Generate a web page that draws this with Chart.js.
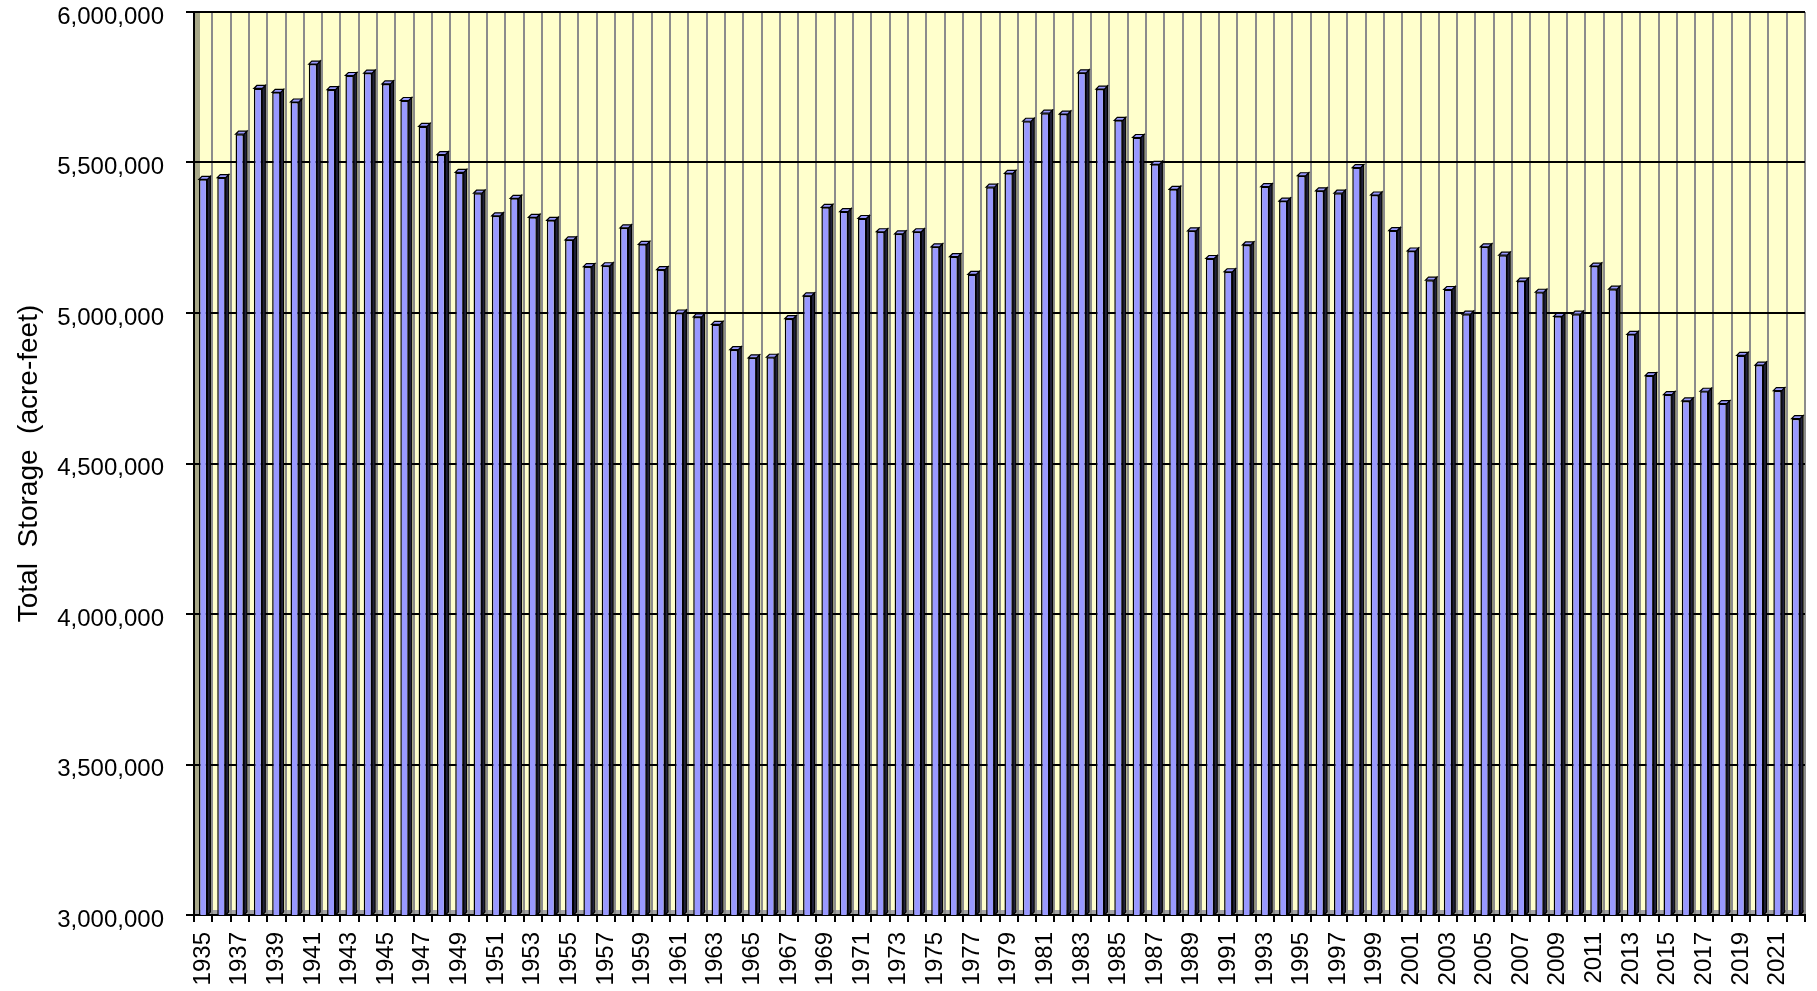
<!DOCTYPE html>
<html>
<head>
<meta charset="utf-8">
<title>Total Storage</title>
<script src="https://cdn.jsdelivr.net/npm/chart.js@4"></script>
<style>
  body { margin: 0; background: #ffffff; }
  #wrap { width: 1817px; height: 991px; }
</style>
</head>
<body>
<div id="wrap"><canvas id="storageChart" width="1817" height="991"></canvas></div>
<script>
// years on the x axis
const years = [
  "1935", "1936", "1937", "1938", "1939", "1940", "1941", "1942", "1943", "1944",
  "1945", "1946", "1947", "1948", "1949", "1950", "1951", "1952", "1953", "1954",
  "1955", "1956", "1957", "1958", "1959", "1960", "1961", "1962", "1963", "1964",
  "1965", "1966", "1967", "1968", "1969", "1970", "1971", "1972", "1973", "1974",
  "1975", "1976", "1977", "1978", "1979", "1980", "1981", "1982", "1983", "1984",
  "1985", "1986", "1987", "1988", "1989", "1990", "1991", "1992", "1993", "1994",
  "1995", "1996", "1997", "1998", "1999", "2000", "2001", "2002", "2003", "2004",
  "2005", "2006", "2007", "2008", "2009", "2010", "2011", "2012", "2013", "2014",
  "2015", "2016", "2017", "2018", "2019", "2020", "2021", "2022"
];

// total storage, acre-feet
const totalStorage = [
  5444000, 5450000, 5594000, 5746000, 5733000, 5701000, 5827000, 5742000, 5789000, 5797000,
  5761000, 5706000, 5620000, 5526000, 5467000, 5398000, 5323000, 5381000, 5318000, 5308000,
  5243000, 5154000, 5157000, 5283000, 5228000, 5144000, 5000000, 4987000, 4962000, 4878000,
  4851000, 4853000, 4981000, 5057000, 5351000, 5337000, 5314000, 5270000, 5263000, 5270000,
  5220000, 5187000, 5128000, 5418000, 5464000, 5637000, 5664000, 5661000, 5798000, 5744000,
  5640000, 5583000, 5494000, 5411000, 5273000, 5181000, 5137000, 5226000, 5420000, 5372000,
  5456000, 5406000, 5398000, 5483000, 5392000, 5274000, 5206000, 5109000, 5078000, 4996000,
  5220000, 5192000, 5106000, 5069000, 4989000, 4996000, 5156000, 5079000, 4929000, 4792000,
  4729000, 4708000, 4740000, 4699000, 4859000, 4827000, 4742000, 4649000
];

// y axis range and step
const yMin = 3000000;
const yMax = 6000000;
const yStep = 500000;

const yTitle = "Total  Storage  (acre-feet)";

const FONT = "'Liberation Sans', Arial, sans-serif";
const BAR_COLOR = "#9999ff";
const DEPTH = 3; // fake 3d depth for bars

// yellow back wall, olive side wall, grey floor
const wallPlugin = {
  id: "wall",
  beforeDraw(chart) {
    const { ctx, chartArea: a } = chart;
    ctx.save();
    ctx.fillStyle = "#ffffcc";
    ctx.fillRect(a.left, a.top, a.right - a.left, a.bottom - a.top);
    ctx.fillStyle = "#a8a888";
    ctx.fillRect(a.left, a.top, 6, a.bottom - a.top);
    ctx.fillStyle = "#a6a6a6";
    ctx.fillRect(a.left, a.bottom - 5, a.right - a.left, 5);
    ctx.restore();
  },
};

// side + top faces of each bar, from the bar elements
const bar3dPlugin = {
  id: "bar3d",
  afterDatasetsDraw(chart) {
    const { ctx, chartArea: a } = chart;
    const meta = chart.getDatasetMeta(0);
    ctx.save();
    // the bar base sits at 0, far below the axis -> keep faces inside the plot
    ctx.beginPath();
    ctx.rect(a.left, a.top - DEPTH - 2, a.right - a.left, a.bottom - a.top + DEPTH + 2);
    ctx.clip();
    ctx.lineWidth = 1.2;
    ctx.strokeStyle = "#000000";
    meta.data.forEach((bar) => {
      const half = bar.width / 2;
      const r = bar.x + half;
      const l = bar.x - half;
      const base = Math.min(bar.base, a.bottom);
      // side
      ctx.beginPath();
      ctx.moveTo(r, bar.y);
      ctx.lineTo(r + DEPTH, bar.y - DEPTH);
      ctx.lineTo(r + DEPTH, base - DEPTH);
      ctx.lineTo(r, base);
      ctx.closePath();
      ctx.fillStyle = "#22223c";
      ctx.fill();
      ctx.stroke();
      // top
      ctx.beginPath();
      ctx.moveTo(l, bar.y);
      ctx.lineTo(l + DEPTH, bar.y - DEPTH);
      ctx.lineTo(r + DEPTH, bar.y - DEPTH);
      ctx.lineTo(r, bar.y);
      ctx.closePath();
      ctx.fillStyle = BAR_COLOR;
      ctx.fill();
      ctx.stroke();
    });
    ctx.restore();
  },
};

const storageChart = new Chart(document.getElementById("storageChart"), {
  type: "bar",
  data: {
    labels: years,
    datasets: [
      {
        label: "Total Storage",
        data: totalStorage,
        backgroundColor: BAR_COLOR,
        borderColor: "#000000",
        borderWidth: 1.5,
        borderSkipped: false,
        barPercentage: 0.46,
        categoryPercentage: 1.0,
      },
    ],
  },
  plugins: [wallPlugin, bar3dPlugin],
  options: {
    responsive: false,
    animation: false,
    layout: {
      padding: { top: 12, right: 12, left: 0, bottom: 0 },
    },
    plugins: {
      legend: { display: false },
      tooltip: { enabled: false },
      title: { display: false },
    },
    scales: {
      x: {
        offset: true,
        grid: {
          offset: true,
          color: "#8c8c8c",
          lineWidth: 2,
          tickColor: "#000000",
          tickLength: 7,
        },
        border: { color: "#000000", width: 2 },
        ticks: {
          autoSkip: false,
          maxRotation: 90,
          minRotation: 90,
          padding: 10,
          color: "#000000",
          font: { family: FONT, size: 24 },
          callback: function (value, index) {
            return index % 2 === 0 ? this.getLabelForValue(value) : "";
          },
        },
        afterFit: (scale) => {
          scale.height = 76;
          scale.paddingLeft = 0;
          scale.paddingRight = 0;
        },
      },
      y: {
        min: yMin,
        max: yMax,
        grid: {
          color: "#000000",
          lineWidth: 2,
          tickColor: "#000000",
          tickLength: 8,
        },
        border: { color: "#000000", width: 2 },
        ticks: {
          stepSize: yStep,
          padding: 22,
          labelOffset: 5,
          color: "#000000",
          font: { family: FONT, size: 24 },
          callback: (value) => value.toLocaleString("en-US"),
        },
        title: {
          display: true,
          text: yTitle,
          color: "#000000",
          font: { family: FONT, size: 28 },
          padding: { top: 12, bottom: 0 },
        },
        afterFit: (scale) => {
          scale.width = 194;
          scale.paddingTop = 0;
          scale.paddingBottom = 0;
        },
      },
    },
  },
});
</script>
</body>
</html>
